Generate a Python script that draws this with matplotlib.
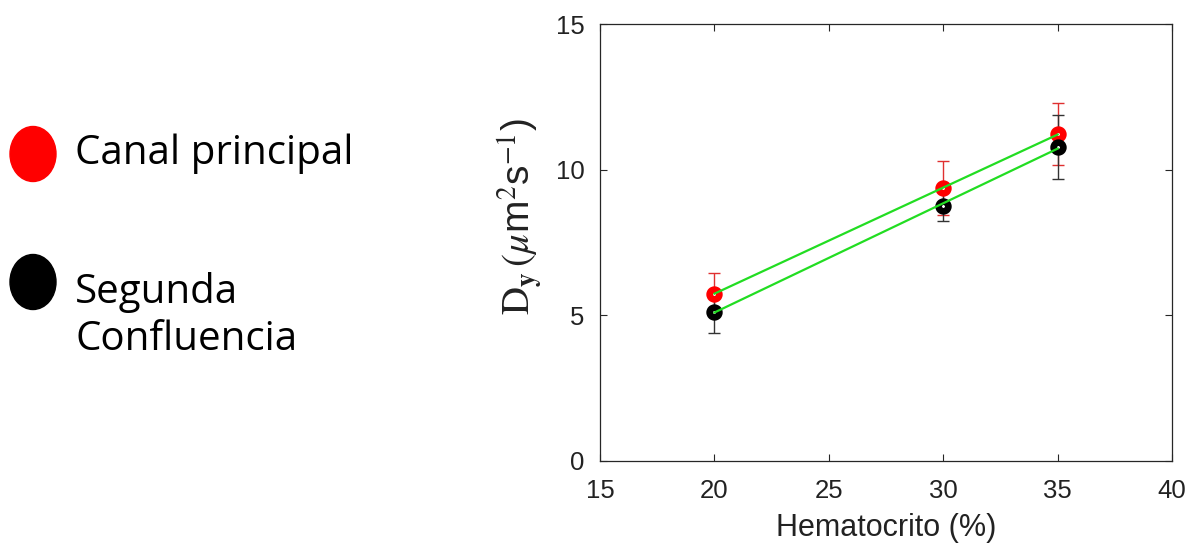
import numpy as np
import matplotlib
matplotlib.use('Agg')
import matplotlib.pyplot as plt
from matplotlib.patches import Ellipse

# Datos: difusividad Dy frente a hematocrito
hematocrito = [20, 30, 35]
dy_principal = [5.75, 9.38, 11.22]
err_principal = [0.72, 0.92, 1.06]
dy_segunda = [5.13, 8.76, 10.79]
err_segunda = [0.72, 0.51, 1.11]

series_nombres = ['Canal principal', 'Segunda\nConfluencia']
series_colores = ['#ff0000', '#000000']

plt.rcParams['font.family'] = ['Liberation Sans', 'DejaVu Sans']
plt.rcParams['mathtext.fontset'] = 'stix'

fig = plt.figure(figsize=(11.96, 5.46), dpi=100)

# Leyenda manual a la izquierda
leg = fig.add_axes([0, 0, 1, 1])
leg.set_xlim(0, 1196)
leg.set_ylim(546, 0)
leg.axis('off')
for yc, col in zip([154, 282], series_colores):
    leg.add_patch(Ellipse((33, yc), 46, 55, color=col))
for y, nombre in zip([154, 316], series_nombres):
    leg.text(75, y, nombre, fontsize=29, va='center', ha='left',
             family=['Open Sans', 'DejaVu Sans'], linespacing=1.2)

ax = fig.add_axes([0.5017, 0.1557, 0.4783, 0.7999])
edge = '#262626'

ax.errorbar(hematocrito, dy_principal, yerr=err_principal, fmt='none',
            ecolor='#e03030', elinewidth=1, capsize=4, capthick=1, zorder=2)
ax.errorbar(hematocrito, dy_segunda, yerr=err_segunda, fmt='none',
            ecolor='#333333', elinewidth=1, capsize=4, capthick=1, zorder=2)
ax.plot(hematocrito, dy_principal, 'o', mfc='white', mec='#ff0000',
        ms=7, mew=4.8, zorder=3)
ax.plot(hematocrito, dy_segunda, 'o', mfc='white', mec='#000000',
        ms=7, mew=4.8, zorder=4)

# Ajustes lineales
x = np.array(hematocrito)
for dy in (dy_principal, dy_segunda):
    p = np.polyfit(x, dy, 1)
    ax.plot(x[[0, -1]], np.polyval(p, x[[0, -1]]), color='#22dd22',
            lw=1.6, zorder=5)

ax.set_xlim(15, 40)
ax.set_ylim(0, 15)
ax.set_xticks([15, 20, 25, 30, 35, 40])
ax.set_yticks([0, 5, 10, 15])
ax.tick_params(direction='in', length=5, width=0.8, colors=edge,
               labelcolor='#222222', labelsize=18.5, top=True, right=True)
ax.tick_params(axis='x', pad=13)
ax.tick_params(axis='y', pad=11)
for s in ax.spines.values():
    s.set_color(edge)
    s.set_linewidth(0.9)

ax.set_xlabel('Hematocrito (%)', fontsize=22, color='#222222', labelpad=7)
ax.set_ylabel(r'$\mathrm{D}_{\mathbf{y}}\,(\mu$m$^{2}$s$^{-1}$)', fontsize=28,
              color='#222222')
ax.yaxis.set_label_coords(-0.098, 0.56)

fig.savefig('out.png', dpi=100)
